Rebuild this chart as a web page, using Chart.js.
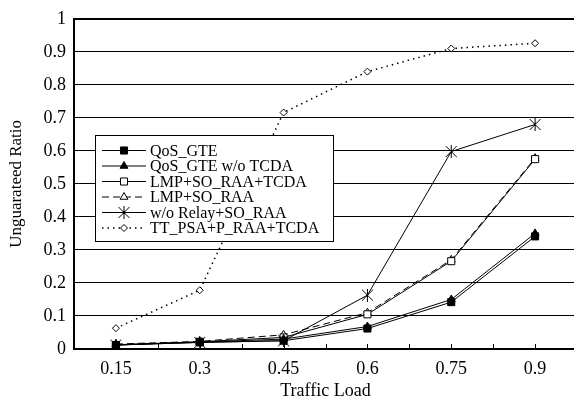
<!DOCTYPE html>
<html>
<head>
<meta charset="utf-8">
<script src="https://cdn.jsdelivr.net/npm/chart.js@4/dist/chart.umd.min.js"></script>
<style>
  html, body { margin: 0; padding: 0; background: #fff; overflow: hidden; }
  #wrap { width: 574px; height: 402px; overflow: hidden; }
</style>
</head>
<body>
<div id="wrap"><canvas id="c" width="584" height="402"></canvas></div>
<script>
// data
const loads = ['0.15', '0.3', '0.45', '0.6', '0.75', '0.9'];
const yTicks = [0, 0.1, 0.2, 0.3, 0.4, 0.5, 0.6, 0.7, 0.8, 0.9, 1];
const seriesNames = ['QoS_GTE', 'QoS_GTE w/o TCDA', 'LMP+SO_RAA+TCDA', 'LMP+SO_RAA', 'w/o Relay+SO_RAA', 'TT_PSA+P_RAA+TCDA'];
const qosGte = [0.012, 0.02, 0.025, 0.062, 0.142, 0.341];
const qosGteNoTcda = [0.013, 0.021, 0.03, 0.068, 0.15, 0.35];
const lmpSoRaaTcda = [0.012, 0.022, 0.035, 0.105, 0.266, 0.575];
const lmpSoRaa = [0.015, 0.023, 0.043, 0.11, 0.27, 0.578];
const noRelaySoRaa = [0.012, 0.02, 0.025, 0.163, 0.598, 0.68];
const ttPsaPRaaTcda = [0.063, 0.178, 0.716, 0.84, 0.91, 0.926];

const FONT = "'Liberation Serif', 'Times New Roman', serif";

// asterisk marker (X with a vertical stroke)
function makeAsterisk(s) {
  let cv = document.createElement('canvas');
  cv.width = s; cv.height = s;
  let g = cv.getContext('2d');
  g.strokeStyle = '#000';
  g.lineWidth = 1;
  let h = s / 2;
  g.beginPath();
  g.moveTo(1, 1); g.lineTo(s - 1, s - 1);
  g.moveTo(s - 1, 1); g.lineTo(1, s - 1);
  g.moveTo(h, 0); g.lineTo(h, s);
  g.stroke();
  return cv;
}
const asterisk = makeAsterisk(13);

function mk(label, data, style, fill, radius, dash, width) {
  return {
    label: label,
    data: data,
    borderColor: '#000',
    borderWidth: width || 1,
    borderDash: dash || [],
    pointStyle: style,
    pointRadius: radius,
    pointBackgroundColor: fill,
    pointBorderColor: '#000',
    pointBorderWidth: 1,
    fill: false,
    tension: 0
  };
}

const datasets = [
  mk(seriesNames[0], qosGte, 'rect', '#000', 5),
  mk(seriesNames[1], qosGteNoTcda, 'triangle', '#000', 4.5),
  mk(seriesNames[2], lmpSoRaaTcda, 'rect', '#fff', 5),
  mk(seriesNames[3], lmpSoRaa, 'triangle', '#fff', 4.5, [7, 4]),
  mk(seriesNames[4], noRelaySoRaa, asterisk, '#fff', 6),
  mk(seriesNames[5], ttPsaPRaaTcda, 'rectRot', '#fff', 3.5, [1.5, 4], 1.5)
];

// small tick marks pointing up from the x axis, every half category
const innerTicks = {
  id: 'innerTicks',
  afterDraw(chart) {
    let x = chart.scales.x, ctx = chart.ctx, b = chart.chartArea.bottom;
    ctx.save();
    ctx.strokeStyle = '#000';
    ctx.lineWidth = 1;
    ctx.beginPath();
    for (let v = -0.5; v <= loads.length - 0.5; v += 0.5) {
      let px = Math.round(x.getPixelForValue(v)) + 0.5;
      ctx.moveTo(px, b);
      ctx.lineTo(px, b - 5);
    }
    ctx.stroke();
    ctx.restore();
  }
};

// boxed legend inside the plot
const boxLegend = {
  id: 'boxLegend',
  afterDatasetsDraw(chart) {
    let ctx = chart.ctx;
    let bx = 95.5, by = 135.5, bw = 238, bh = 106;
    ctx.save();
    ctx.fillStyle = '#fff';
    ctx.fillRect(bx, by, bw, bh);
    ctx.strokeStyle = '#000';
    ctx.lineWidth = 1;
    ctx.strokeRect(bx, by, bw, bh);
    ctx.font = '16px ' + FONT;
    ctx.textBaseline = 'middle';
    chart.data.datasets.forEach((ds, i) => {
      let y = 150.5 + i * 15.5;
      ctx.beginPath();
      ctx.setLineDash(ds.borderDash);
      ctx.lineWidth = ds.borderWidth;
      ctx.moveTo(102, y);
      ctx.lineTo(146, y);
      ctx.stroke();
      ctx.setLineDash([]);
      ctx.lineWidth = 1;
      ctx.fillStyle = ds.pointBackgroundColor;
      ctx.strokeStyle = '#000';
      Chart.helpers.drawPoint(ctx, {
        pointStyle: ds.pointStyle,
        radius: ds.pointRadius,
        rotation: 0,
        borderWidth: 1
      }, 124, y);
      ctx.fillStyle = '#000';
      ctx.fillText(ds.label, 150, y + 1);
    });
    ctx.restore();
  }
};

new Chart(document.getElementById('c'), {
  type: 'line',
  data: { labels: loads, datasets: datasets },
  plugins: [innerTicks, boxLegend],
  options: {
    responsive: false,
    animation: false,
    devicePixelRatio: 1,
    layout: { padding: { top: 12, right: 3, left: 0, bottom: 0 } },
    plugins: { legend: { display: false }, tooltip: { enabled: false } },
    scales: {
      x: {
        offset: true,
        grid: { display: false, drawTicks: false },
        border: { display: true, color: '#000', width: 2 },
        ticks: { color: '#000', font: { family: FONT, size: 18 }, padding: 9, maxRotation: 0 },
        title: { display: true, text: 'Traffic Load', color: '#000', font: { family: FONT, size: 18 }, padding: { top: 0, bottom: 0 } },
        afterFit(s) { s.height = 53; }
      },
      y: {
        min: 0,
        max: 1,
        afterBuildTicks(s) { s.ticks = yTicks.map(v => ({ value: v })); },
        grid: {
          color: '#000',
          lineWidth: c => (c.tick && c.tick.value === 1 ? 2 : 1),
          drawTicks: false
        },
        border: { display: true, color: '#000', width: 2 },
        ticks: { color: '#000', font: { family: FONT, size: 18 }, padding: 8, callback: v => String(v) },
        title: { display: true, text: 'Unguarateed Ratio', color: '#000', font: { family: FONT, size: 17 }, padding: { top: 6, bottom: 0 } },
        afterFit(s) { s.width = 74; }
      }
    }
  }
});
</script>
</body>
</html>
